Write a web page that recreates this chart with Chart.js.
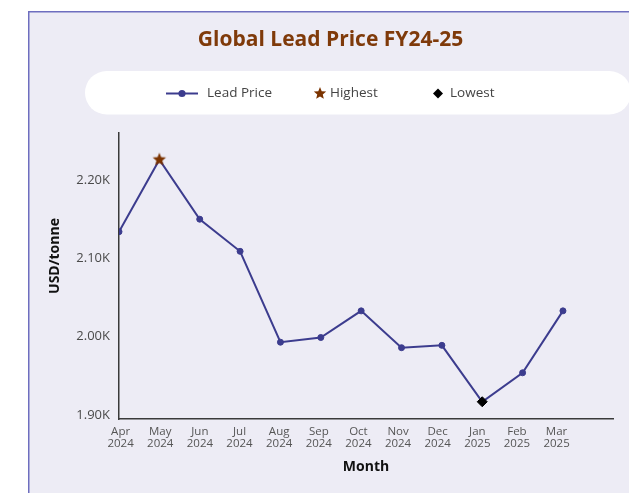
<!DOCTYPE html>
<html>
<head>
<meta charset="utf-8">
<title>Global Lead Price FY24-25</title>
<script src="https://cdn.jsdelivr.net/npm/chart.js@4.4.1/dist/chart.umd.min.js"></script>
<style>
    html, body { margin: 0; padding: 0; background: #fff; }
    canvas { display: block; }
</style>
</head>
<body>
<canvas id="lead-chart" width="629" height="493"></canvas>
<script>
// ─── Data ───────────────────────────────────────────────────────────────────

const MONTHS = ["Apr 2024", "May 2024", "Jun 2024", "Jul 2024", "Aug 2024", "Sep 2024",
    "Oct 2024", "Nov 2024", "Dec 2024", "Jan 2025", "Feb 2025", "Mar 2025"];
const PRICES = [2134, 2226, 2150, 2109, 1993, 1999, 2033, 1986, 1989, 1917, 1954, 2033];
const Y_TICKS = [1900, 2000, 2100, 2200];
const Y_TITLE = "USD/tonne";

// ─── Styles ─────────────────────────────────────────────────────────────────

const FONT = "'Open Sans', 'Noto Sans', sans-serif";
const LINE_COLOR = "#3c3c8e";
const STAR_COLOR = "#7b3300";
const TITLE_COLOR = "#7f3a0a";
const AXIS_COLOR = "#3a3a3a";
const PANEL_BG = "#edecf5";
const PANEL_BORDER = "#6e6ebf";

const hiIdx = PRICES.indexOf(Math.max(...PRICES));
const loIdx = PRICES.indexOf(Math.min(...PRICES));

function starPath(ctx, cx, cy, outer, inner) {
    ctx.beginPath();
    for (let k = 0; k < 10; k++) {
        const r = k % 2 ? inner : outer;
        const a = -Math.PI / 2 + k * Math.PI / 5;
        ctx.lineTo(cx + r * Math.cos(a), cy + r * Math.sin(a));
    }
    ctx.closePath();
}

// filled 5-point star used as a point style (the built-in "star" is only outlined)
function makeStar(size, outer) {
    const c = document.createElement("canvas");
    c.width = size;
    c.height = size;
    const ctx = c.getContext("2d");
    ctx.fillStyle = STAR_COLOR;
    starPath(ctx, size / 2, size / 2, outer, outer * 0.45);
    ctx.fill();
    return c;
}

// ─── Panel background, legend pill, y title ─────────────────────────────────

const panelPlugin = {
    id: "panel",
    beforeDraw(chart) {
        const {ctx, width, height} = chart;
        ctx.save();
        ctx.fillStyle = PANEL_BG;
        ctx.fillRect(28, 11, width - 28, height - 11);
        ctx.strokeStyle = PANEL_BORDER;
        ctx.lineWidth = 1.5;
        ctx.beginPath();
        ctx.moveTo(28.75, height);
        ctx.lineTo(28.75, 11.75);
        ctx.lineTo(width, 11.75);
        ctx.stroke();

        // white pill holding the legend
        ctx.fillStyle = "#fff";
        ctx.beginPath();
        ctx.roundRect(85, 71, 546, 43.5, 21.7);
        ctx.fill();

        const ds = chart.data.datasets;
        const cy = 93.5;
        ctx.font = `13.5px ${FONT}`;
        ctx.textBaseline = "middle";

        // line + dot
        ctx.strokeStyle = LINE_COLOR;
        ctx.lineWidth = 2;
        ctx.beginPath();
        ctx.moveTo(166, cy);
        ctx.lineTo(198, cy);
        ctx.stroke();
        ctx.fillStyle = LINE_COLOR;
        ctx.beginPath();
        ctx.arc(182, cy, 3.6, 0, Math.PI * 2);
        ctx.fill();
        ctx.fillStyle = "#444";
        ctx.fillText(ds[0].label, 207, cy);

        // star
        ctx.fillStyle = STAR_COLOR;
        starPath(ctx, 320, cy, 6.5, 2.9);
        ctx.fill();
        ctx.fillStyle = "#444";
        ctx.fillText(ds[1].label, 330, cy);

        // diamond
        ctx.fillStyle = "#000";
        ctx.beginPath();
        ctx.moveTo(438, cy - 5);
        ctx.lineTo(443, cy);
        ctx.lineTo(438, cy + 5);
        ctx.lineTo(433, cy);
        ctx.closePath();
        ctx.fill();
        ctx.fillStyle = "#444";
        ctx.fillText(ds[2].label, 450, cy);

        // y axis title sits a little above the middle of the axis
        ctx.translate(55, 256);
        ctx.rotate(-Math.PI / 2);
        ctx.font = `bold 14px ${FONT}`;
        ctx.fillStyle = "#111";
        ctx.textAlign = "center";
        ctx.fillText(Y_TITLE, 0, 0);
        ctx.restore();
    },
};

// ─── Chart ──────────────────────────────────────────────────────────────────

const points = PRICES.map((y, i) => ({x: i, y}));

new Chart(document.getElementById("lead-chart"), {
    type: "line",
    data: {
        datasets: [
            {
                label: "Lead Price",
                data: points,
                order: 1,
                borderColor: LINE_COLOR,
                borderWidth: 2,
                backgroundColor: LINE_COLOR,
                pointBackgroundColor: LINE_COLOR,
                pointBorderColor: LINE_COLOR,
                pointBorderWidth: 1,
                pointRadius: (c) => (c.dataIndex === hiIdx || c.dataIndex === loIdx ? 0 : 3),
                tension: 0,
            },
            {
                label: "Highest",
                data: [points[hiIdx]],
                order: 0,
                showLine: false,
                pointStyle: makeStar(16, 7),
                pointRadius: 7,
            },
            {
                label: "Lowest",
                data: [points[loIdx]],
                order: 0,
                showLine: false,
                pointStyle: "rectRot",
                pointRadius: 5,
                pointBackgroundColor: "#000",
                pointBorderColor: "#000",
                pointBorderWidth: 1,
            },
        ],
    },
    options: {
        responsive: false,
        animation: false,
        layout: {padding: {top: 0, left: 48, right: 16, bottom: 0}},
        plugins: {
            legend: {display: false},
            tooltip: {enabled: false},
            title: {
                display: true,
                text: "Global Lead Price FY24-25",
                color: TITLE_COLOR,
                font: {family: FONT, size: 21, weight: "bold", lineHeight: 1.2},
                padding: {top: 27, bottom: 80.8},
            },
        },
        scales: {
            x: {
                type: "linear",
                min: 0,
                max: 12.24,
                border: {display: true, color: AXIS_COLOR, width: 1.5},
                grid: {display: false, drawTicks: false},
                afterBuildTicks: (scale) => {
                    // month labels sit on a slightly tighter pitch than the points
                    scale.ticks = MONTHS.map((m, i) => ({value: 0.04 + i * 0.982}));
                },
                afterFit: (scale) => { scale.height = 74; },
                ticks: {
                    autoSkip: false,
                    maxRotation: 0,
                    padding: 7,
                    color: "#555",
                    font: {family: FONT, size: 11.5, lineHeight: 1.0},
                    callback: (value, index) => MONTHS[index].split(" "),
                },
                title: {
                    display: true,
                    text: "Month",
                    color: "#111",
                    font: {family: FONT, size: 14, weight: "bold", lineHeight: 1.2},
                    padding: {top: 0, bottom: 17.6},
                },
            },
            y: {
                min: 1895,
                max: 2260,
                border: {display: true, color: AXIS_COLOR, width: 1.5},
                grid: {display: false, drawTicks: false},
                afterBuildTicks: (scale) => {
                    scale.ticks = Y_TICKS.map((v) => ({value: v}));
                },
                afterFit: (scale) => { scale.width = 71; },
                ticks: {
                    padding: 9,
                    color: "#4a4a4a",
                    font: {family: FONT, size: 13},
                    callback: (v) => (v / 1000).toFixed(2) + "K",
                },
                title: {display: false},
            },
        },
    },
    plugins: [panelPlugin],
});
</script>
</body>
</html>
